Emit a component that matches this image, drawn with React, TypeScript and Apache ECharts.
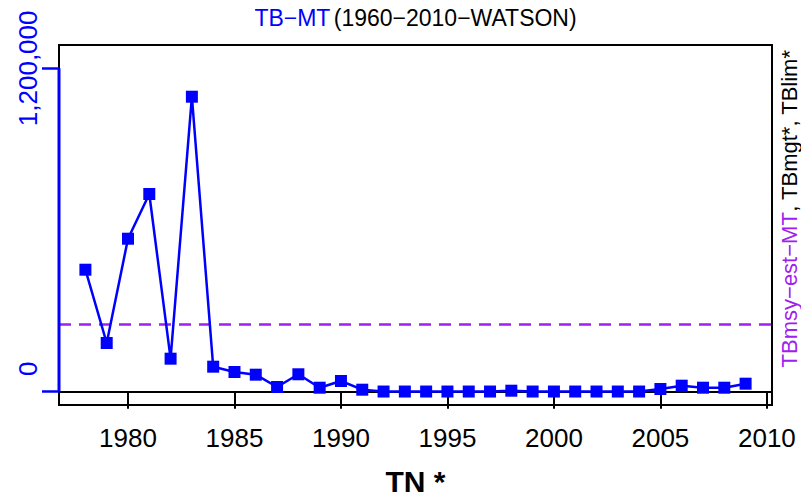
import React, { useEffect, useRef } from "react";
import * as echarts from "echarts";

const years = [
  1978, 1979, 1980, 1981, 1982, 1983, 1984, 1985, 1986, 1987, 1988, 1989, 1990, 1991,
  1992, 1993, 1994, 1995, 1996, 1997, 1998, 1999, 2000, 2001, 2002, 2003, 2004, 2005,
  2006, 2007, 2008, 2009,
];
const tbValues = [
  452700, 180700, 567700, 733600, 122500, 1094700, 92800, 73100, 63100, 17400, 64600,
  14800, 39700, 7400, 600, 600, 600, 600, 600, 600, 3700, 600, 600, 600, 600, 600, 600,
  10000, 22300, 14800, 14800, 29700,
];
const tbmsyValue = 251200;
const xTicks = [1980, 1985, 1990, 1995, 2000, 2005, 2010];
const yTicks = [0, 1200000];
const yTickLabels = ["0", "1,200,000"];
const xRange = [1976.76, 2010.24];
const yRange = [-49400, 1286600];

const FONT = "'Liberation Sans', Arial, Helvetica, sans-serif";
const BLUE = "#0000ff";
const PURPLE = "#a020f0";

export default function App() {
  const ref = useRef<HTMLDivElement>(null);
  useEffect(() => {
    if (!ref.current) return;
    const chart = echarts.init(ref.current, null, { renderer: "svg" });
    const option: any = {
      animation: false,
      backgroundColor: "#ffffff",
      textStyle: { fontFamily: FONT },
      grid: {
        left: 59,
        right: 29,
        top: 45,
        bottom: 97,
        show: true,
        borderColor: "#000000",
        borderWidth: 2,
        backgroundColor: "transparent",
      },
      xAxis: {
        type: "value",
        min: xRange[0],
        max: xRange[1],
        splitLine: { show: false },
        axisLine: { show: true, lineStyle: { color: "#000000", width: 2 } },
        axisTick: {
          show: true,
          customValues: xTicks,
          length: 17,
          lineStyle: { color: "#000000", width: 2 },
        },
        axisLabel: {
          customValues: xTicks,
          fontSize: 26,
          color: "#000000",
          fontFamily: FONT,
          margin: 20,
          formatter: (v: number) => String(v),
        },
        name: "TN *",
        nameLocation: "middle",
        nameGap: 61,
        nameTextStyle: {
          fontSize: 30,
          fontWeight: "bold",
          color: "#000000",
          fontFamily: FONT,
        },
      },
      yAxis: {
        type: "value",
        min: yRange[0],
        max: yRange[1],
        splitLine: { show: false },
        axisLine: { show: false },
        axisTick: {
          show: true,
          customValues: yTicks,
          length: 17,
          lineStyle: { color: BLUE, width: 2.5 },
        },
        axisLabel: {
          customValues: yTicks,
          rotate: 90,
          margin: 18,
          fontSize: 26,
          color: BLUE,
          fontFamily: FONT,
          formatter: (v: number) => {
            const i = yTicks.indexOf(v);
            const t = i >= 0 ? yTickLabels[i] : "";
            return v === 0 ? "{z|" + t + "}" : "{n|" + t + "}";
          },
          rich: {
            z: { padding: [0, 0, 0, 46], fontSize: 26, color: BLUE, fontFamily: FONT },
            n: { fontSize: 26, color: BLUE, fontFamily: FONT },
          },
        },
      },
      series: [
        {
          type: "line",
          data: years.map((y, i) => [y, tbValues[i]]),
          symbol: "rect",
          symbolSize: 12,
          lineStyle: { color: BLUE, width: 2.5 },
          itemStyle: { color: BLUE },
          z: 5,
          markLine: {
            silent: true,
            symbol: "none",
            label: { show: false },
            lineStyle: { color: PURPLE, type: [12, 8], width: 2.5 },
            data: [{ yAxis: tbmsyValue }],
          },
        },
        {
          type: "line",
          data: [
            [xRange[0], yTicks[0]],
            [xRange[0], yTicks[1]],
          ],
          clip: false,
          symbol: "none",
          lineStyle: { color: BLUE, width: 3 },
          z: 6,
        },
      ],
      graphic: [
        {
          type: "text",
          x: 415.5,
          y: 18,
          style: {
            text: "{a|TB\u2212MT} {b|(1960\u22122010\u2212WATSON)}",
            textAlign: "center",
            textVerticalAlign: "middle",
            rich: {
              a: { fontSize: 23, fill: BLUE, fontFamily: FONT },
              b: { fontSize: 23, fill: "#000000", fontFamily: FONT },
            },
          },
        },
        {
          type: "text",
          x: 789,
          y: 208.5,
          rotation: Math.PI / 2,
          style: {
            text: "{p|TBmsy\u2212est\u2212MT}{k|, TBmgt*, TBlim*}",
            textAlign: "center",
            textVerticalAlign: "middle",
            rich: {
              p: { fontSize: 22, lineHeight: 20, fill: PURPLE, fontFamily: FONT },
              k: { fontSize: 22, lineHeight: 20, fill: "#000000", fontFamily: FONT },
            },
          },
        },
      ],
    };
    chart.setOption(option);
    return () => chart.dispose();
  }, []);
  return (
    <div
      ref={ref}
      style={{ position: "fixed", left: 0, top: 0, width: 801, height: 502, background: "#fff" }}
    />
  );
}
